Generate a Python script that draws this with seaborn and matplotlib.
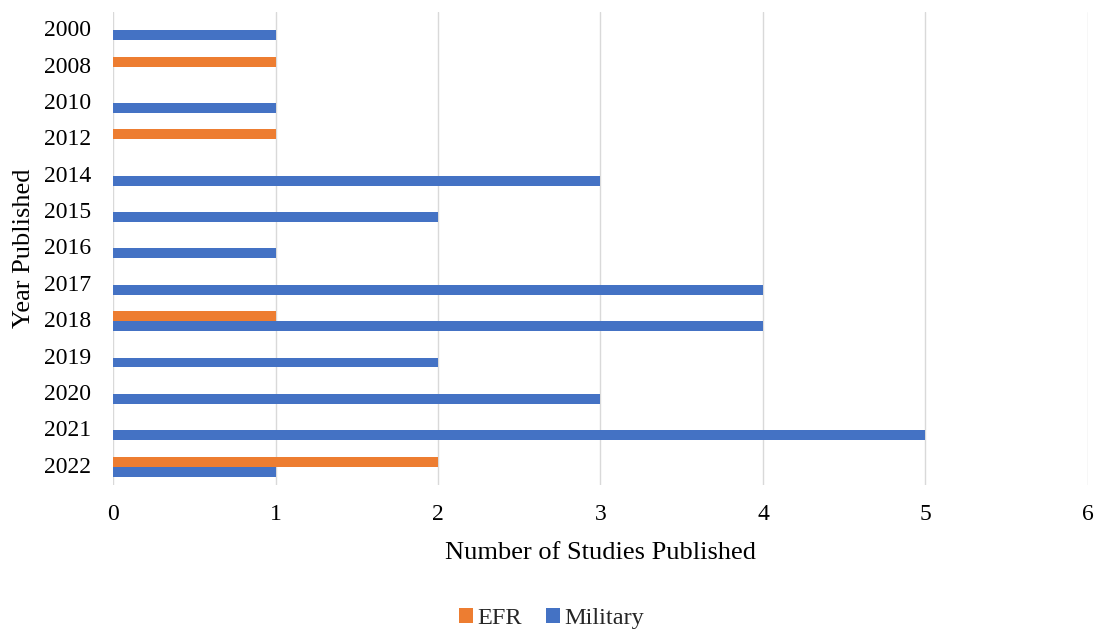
import matplotlib
matplotlib.use("Agg")
import matplotlib.pyplot as plt
import matplotlib.transforms as mtransforms
import seaborn as sns
import pandas as pd
from matplotlib.patches import Patch

years = ["2000", "2008", "2010", "2012", "2014", "2015", "2016",
         "2017", "2018", "2019", "2020", "2021", "2022"]
efr = [0, 1, 0, 1, 0, 0, 0, 0, 1, 0, 0, 0, 2]
military = [1, 0, 1, 0, 3, 2, 1, 4, 4, 2, 3, 5, 1]
series = ["EFR", "Military"]
colors = ["#ED7D31", "#4472C4"]
x_ticks = [0, 1, 2, 3, 4, 5, 6]

df = pd.DataFrame({
    "Year": years * 2,
    "Series": ["EFR"] * len(years) + ["Military"] * len(years),
    "Count": efr + military,
})

sns.set_theme(style="white")
plt.rcParams["font.family"] = ["Liberation Serif", "DejaVu Serif"]

fig = plt.figure(figsize=(10.94, 6.29), dpi=100)
ax = fig.add_axes([0.1033, 0.229, 0.8912, 0.752])

sns.barplot(data=df, x="Count", y="Year", hue="Series", order=years,
            hue_order=series, palette=colors, orient="h", width=0.54,
            saturation=1, linewidth=0, legend=False, ax=ax)

ax.set_xlim(0, 6)
ax.set_ylim(len(years) - 0.5, -0.5)
ax.set_xticks(x_ticks)
ax.set_xticklabels([str(t) for t in x_ticks])
ax.grid(axis="x", color="#d9d9d9", linewidth=1)
ax.set_axisbelow(True)
for s in ax.spines.values():
    s.set_visible(False)
ax.tick_params(axis="both", length=0, labelsize=17, colors="black")
ax.tick_params(axis="x", pad=14)
ax.tick_params(axis="y", pad=16)

# nudge the year labels up slightly so they sit centred on each pair of bars
lift = mtransforms.ScaledTranslation(0, 2 / 100, fig.dpi_scale_trans)
for lbl in ax.get_yticklabels():
    lbl.set_verticalalignment("center_baseline")
    lbl.set_transform(lbl.get_transform() + lift)

ax.set_xlabel("Number of Studies Published", fontsize=19, color="black", labelpad=12)
ax.set_ylabel("Year Published", fontsize=19, color="black", labelpad=6)

handles = [Patch(facecolor=c, edgecolor="none", label=l) for c, l in zip(colors, series)]
fig.legend(handles=handles, loc="center", bbox_to_anchor=(0.504, 0.017),
           ncol=2, frameon=False, fontsize=17.5, handlelength=0.6, handleheight=0.6,
           handletextpad=0.15, columnspacing=1.0)

fig.savefig("out.png", dpi=100)
